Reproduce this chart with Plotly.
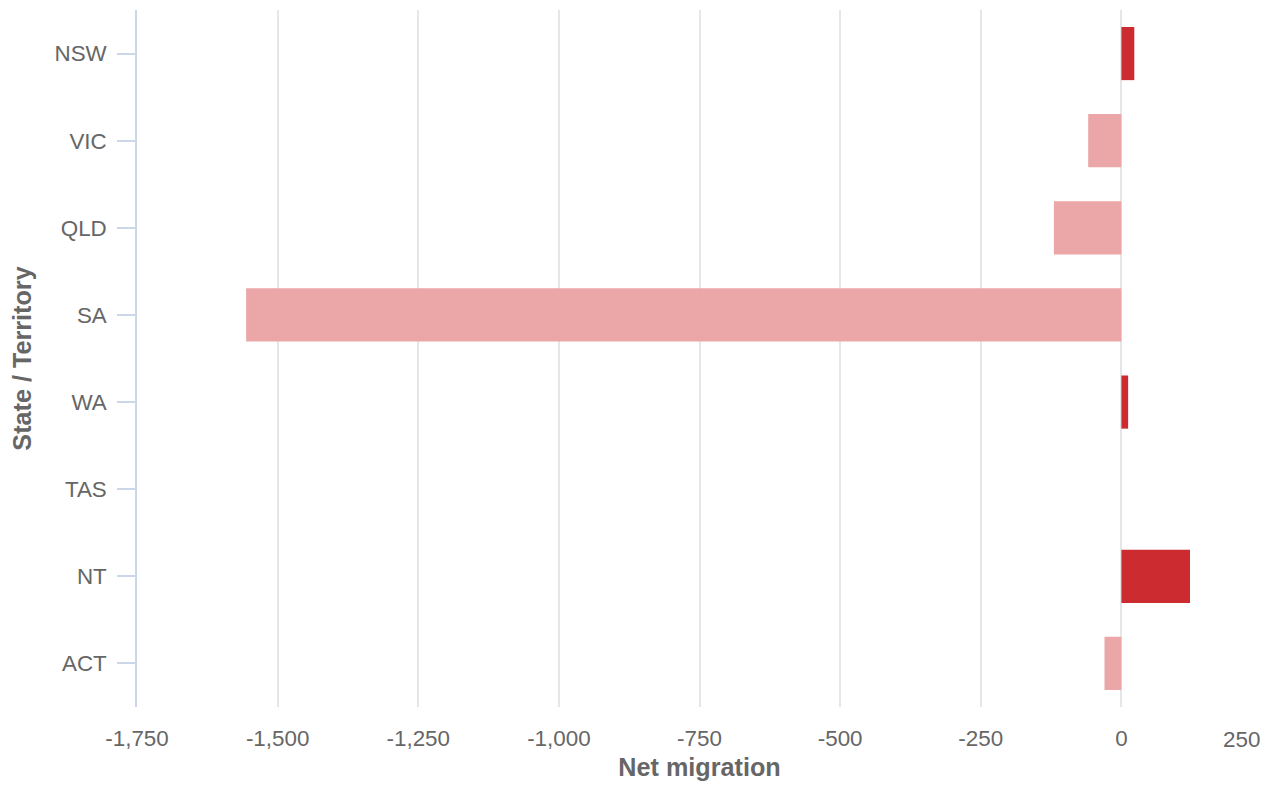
import plotly.graph_objects as go

states = ["NSW", "VIC", "QLD", "SA", "WA", "TAS", "NT", "ACT"]
net_migration = [23, -59, -120, -1556, 12, 0, 122, -30]
tick_vals = [-1750, -1500, -1250, -1000, -750, -500, -250, 0, 250]
tick_text = ["-1,750", "-1,500", "-1,250", "-1,000", "-750", "-500", "-250", "0", "250"]

pos_color = "#CC2C30"
neg_color = "#EBA6A7"
colors = [pos_color if v > 0 else neg_color for v in net_migration]

font_family = "Liberation Sans, Arial, sans-serif"
text_color = "#666666"

fig = go.Figure()
fig.add_trace(go.Bar(
    x=net_migration,
    y=states,
    orientation="h",
    marker=dict(color=colors, line=dict(width=0)),
    hovertemplate="%{y}: %{x}<extra></extra>",
))

fig.update_layout(
    width=1263,
    height=791,
    margin=dict(l=137, r=1, t=10, b=84),
    paper_bgcolor="white",
    plot_bgcolor="white",
    bargap=0.39,
    showlegend=False,
    font=dict(family=font_family, color=text_color, size=22.4),
    xaxis=dict(
        range=[tick_vals[0], tick_vals[-1]],
        tickvals=tick_vals,
        ticktext=tick_text[:-1] + [""],
        showgrid=True,
        gridcolor="#E6E6E6",
        gridwidth=1.5,
        zeroline=True,
        zerolinecolor="#E6E6E6",
        zerolinewidth=1.5,
        showline=False,
        ticks="",
        ticklabelstandoff=16,
        tickfont=dict(size=22.4, color=text_color),
        title=dict(text="<b>Net migration</b>", font=dict(size=25.2, color=text_color), standoff=7),
        automargin=False,
    ),
    yaxis=dict(
        categoryorder="array",
        categoryarray=states,
        autorange="reversed",
        showline=True,
        linecolor="#CCD6EB",
        linewidth=1.5,
        ticks="outside",
        ticklen=18,
        tickcolor="#CCD6EB",
        tickwidth=1.5,
        ticklabelstandoff=6,
        showgrid=False,
        tickfont=dict(size=22.4, color=text_color),
        title=dict(text="<b>State / Territory</b>", font=dict(size=25.2, color=text_color), standoff=16),
        automargin=False,
    ),
)

# last tick label, justified so it stays inside the page
fig.add_annotation(
    x=tick_vals[-1], xref="x",
    y=0, yref="paper",
    yshift=-18,
    text=tick_text[-1],
    showarrow=False,
    xanchor="right",
    yanchor="top",
    font=dict(size=22.4, color=text_color, family=font_family),
)

fig.write_html(
    "out.html",
    config={"displayModeBar": False},
    post_script="document.body.style.margin='0px';document.body.style.overflow='hidden';",
)
